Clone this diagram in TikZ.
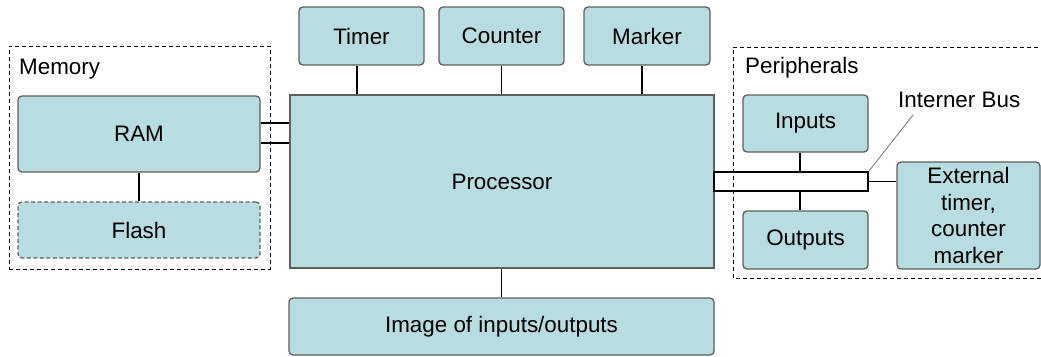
\documentclass[tikz,border=0pt]{standalone}
\usepackage{fontspec}
\setmainfont{Liberation Sans}
\definecolor{boxfill}{RGB}{183,221,224}
\definecolor{boxline}{RGB}{95,95,95}
\begin{document}
\begin{tikzpicture}[x=1pt,y=-1pt,
  every node/.style={font=\fontsize{22.4}{26.5}\selectfont, inner sep=0pt},
  blk/.style={draw=boxline, fill=boxfill, line width=1.3pt, rounded corners=4pt, align=center},
  frame/.style={draw=black, dashed, line width=0.9pt, dash pattern=on 4pt off 3pt},
  wire/.style={draw=black, line width=1.8pt},
  leader/.style={draw=gray, line width=0.9pt}]
\useasboundingbox (0,0) rectangle (1041,356);
% frames
\node[frame, minimum width=261pt, minimum height=223pt] (memframe) at (139.5,157.5) {};
\node[anchor=west] (memlbl) at (19,69) {Memory};
\coordinate (pfA) at (1045,47);
\coordinate (pfB) at (733,47);
\coordinate (pfC) at (733,278);
\coordinate (pfD) at (1045,278);
\draw[frame] (pfA) -- (pfB) -- (pfC) -- (pfD);
\node[anchor=west] (perlbl) at (745,68) {Peripherals};
% blocks
\node[blk, minimum width=242pt, minimum height=76pt] (ram) at (139,134) {RAM};
\node[blk, dashed, dash pattern=on 4pt off 2.5pt, minimum width=242pt, minimum height=56pt] (flash) at (139,230) {Flash};
\node[blk, rounded corners=0pt, minimum width=424pt, minimum height=173pt] (proc) at (502,181.5) {Processor};
\node[blk, minimum width=125pt, minimum height=58pt] (timer) at (361.5,36) {Timer};
\node[blk, minimum width=125pt, minimum height=58pt] (counter) at (501.5,36) {Counter};
\node[blk, minimum width=126pt, minimum height=58pt] (marker) at (647,36) {Marker};
\node[blk, minimum width=425pt, minimum height=57pt] (image) at (501.5,326.5) {Image of inputs/outputs};
\node[blk, minimum width=125pt, minimum height=57pt] (inputs) at (805.5,123.5) {Inputs};
\node[blk, minimum width=125pt, minimum height=58pt] (outputs) at (805.5,240) {Outputs};
\node[blk, minimum width=143pt, minimum height=107pt] (ext) at (968.5,215.5) {External\\timer,\\counter\\marker};
\node[wire, minimum width=154pt, minimum height=19pt] (bus) at (791,181.5) {};
\node[anchor=west] (buslbl) at (898,100) {Interner Bus};
% connectors
\draw[wire] (ram.south) -- (flash.north);
\draw[wire] (ram.east |- 0,123) -- (proc.west |- 0,123);
\draw[wire] (ram.east |- 0,143) -- (proc.west |- 0,143);
\draw[wire] (timer.south -| 357,0) -- (proc.north -| 357,0);
\draw[wire] (counter.south) -- (proc.north -| counter.south);
\draw[wire] (marker.south -| 642,0) -- (proc.north -| 642,0);
\draw[wire] (proc.south -| image.north) -- (image.north);
\draw[wire] (inputs.south -| 800,0) -- (bus.north -| 800,0);
\draw[wire] (bus.south -| 800,0) -- (outputs.north -| 800,0);
\draw[wire] (bus.east) -- (ext.west |- bus.east);
\coordinate (busend) at (913,115);
\draw[leader] (bus.north east) -- (busend);
\end{tikzpicture}
\end{document}
